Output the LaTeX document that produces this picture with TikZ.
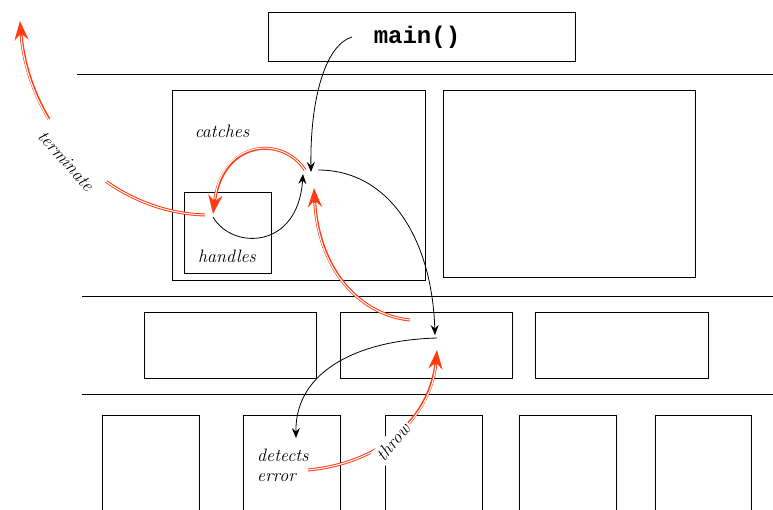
\documentclass[tikz,border=0pt]{standalone}
\usepackage{fontspec}
\newfontfamily\monob{Liberation Mono}
\usetikzlibrary{arrows.meta}
\definecolor{arrred}{RGB}{255,60,20}
\begin{document}
\begin{tikzpicture}[x=1pt,y=-1pt,
  box/.style={draw, line width=0.8pt, inner sep=0pt, outer sep=0pt},
  sep/.style={line width=0.8pt},
  blk/.style={line width=0.8pt, -{Stealth[length=10pt,width=8pt,inset=3.5pt]}},
  redarr/.style={draw=arrred, line width=3pt, -{Stealth[length=19pt,width=14pt,inset=6.5pt]},
     postaction={draw=white, line width=1pt, arrows=-, shorten >=15pt}},
  lbl/.style={font=\fontsize{18}{21}\selectfont\itshape, inner sep=1pt}]
\useasboundingbox (0,0) rectangle (773,509);

% separators
\draw[sep] (77,74) -- (773,74);
\draw[sep] (82,296) -- (773,296);
\draw[sep] (82,394) -- (773,394);

% boxes
\node[box, minimum width=307pt, minimum height=49pt] (mainbox) at (421.5,36.5) {};
\node[font=\monob\bfseries\fontsize{24}{24}\selectfont] (maintxt) at (417,37) {main()};
\node[box, minimum width=253pt, minimum height=190pt] (b1) at (298.5,185) {};
\node[box, minimum width=252pt, minimum height=187pt] (b2) at (569,183.5) {};
\node[box, minimum width=87pt, minimum height=81pt] (hbox) at (227.5,232.5) {};
\node[box, minimum width=172pt, minimum height=66pt] (m1) at (230,345) {};
\node[box, minimum width=172pt, minimum height=66pt] (m2) at (426,345) {};
\node[box, minimum width=173pt, minimum height=66pt] (m3) at (621.5,345) {};
\foreach \x/\w/\n in {102/97/d1, 243/97/d2, 385/97/d3, 519/97/d4, 655/96/d5}
  \node[box, anchor=north west, minimum width=\w pt, minimum height=130pt] (\n) at (\x,415) {};

% labels
\node[lbl] (catches) at (222,131) {catches};
\node[lbl] (handles) at (227,256) {handles};
\node[lbl, anchor=west] (detects) at (256,455) {detects};
\node[lbl, anchor=west] (error) at (256,478) {error};

% endpoints
\coordinate (m0) at (352,37);
\coordinate (hubin) at (311,172);
\coordinate (hubout) at (318,170);
\coordinate (mid) at (435,335);
\coordinate (midout) at (437,338);
\coordinate (det) at (296,438);
\coordinate (hstart) at (213,217);
\coordinate (hubup) at (303,174);
\coordinate (hubred) at (305,170);
\coordinate (hin) at (213,214);
\coordinate (midred) at (410,320);
\coordinate (hubred2) at (314,188);
\coordinate (errout) at (308,470);
\coordinate (midred2) at (437,350);
\coordinate (hout) at (205,215);
\coordinate (top) at (20,21);

% black arrows
\draw[blk] (m0) .. controls (325,45) and (310,100) .. (hubin);
\draw[blk] (hubout) .. controls (390,170) and (432,240) .. (mid);
\draw[blk] (hstart) .. controls (232,250) and (298,250) .. (hubup);
\draw[blk] (midout) .. controls (360,340) and (295,370) .. (det);

% red arrows
\draw[redarr] (hubred) .. controls (282,135) and (222,140) .. (hin);
\draw[redarr] (midred) .. controls (360,315) and (318,270) .. (hubred2);
\draw[redarr] (errout) .. controls (390,462) and (432,410) .. (midred2);
\draw[redarr] (hout) .. controls (105,212) and (28,125) .. (top);

% rotated labels
\node[lbl, fill=white, inner xsep=5pt, inner ysep=13pt, rotate=-48] (term) at (66,161) {terminate};
\node[lbl, fill=white, inner sep=3pt, rotate=50] (throw) at (393,442) {throw};
\end{tikzpicture}
\end{document}
